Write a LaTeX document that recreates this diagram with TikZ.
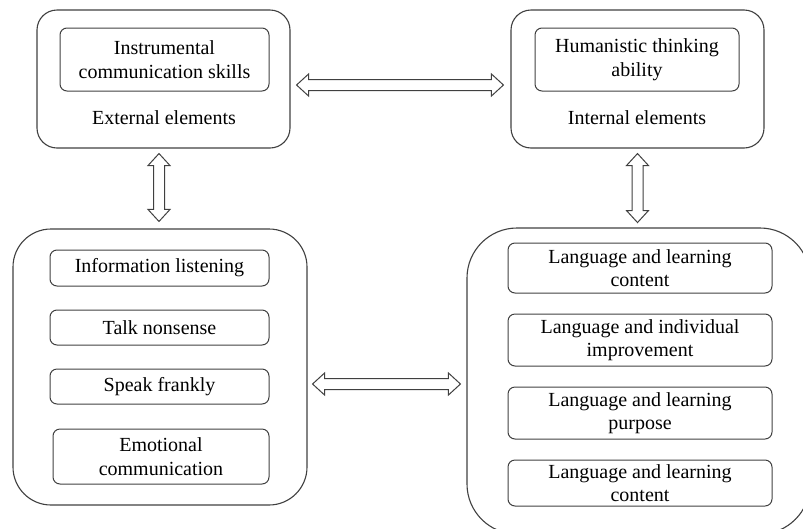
\documentclass[tikz,border=0pt]{standalone}
\usepackage{fontspec}
\setmainfont{Liberation Serif}
\usepackage{tikz}
\usetikzlibrary{positioning,calc}
\newcommand{\dblarrow}[2]{%
  \draw[arrowbody] (#1)
    -- ($(#1)!12pt!(#2)!11pt!90:(#2)$) -- ($(#1)!12pt!(#2)!5.5pt!90:(#2)$)
    -- ($(#2)!12pt!(#1)!5.5pt!-90:(#1)$) -- ($(#2)!12pt!(#1)!11pt!-90:(#1)$)
    -- (#2)
    -- ($(#2)!12pt!(#1)!11pt!90:(#1)$) -- ($(#2)!12pt!(#1)!5.5pt!90:(#1)$)
    -- ($(#1)!12pt!(#2)!5.5pt!-90:(#2)$) -- ($(#1)!12pt!(#2)!11pt!-90:(#2)$)
    -- cycle;}

\begin{document}
\begin{tikzpicture}[x=1pt, y=-1pt, font=\fontsize{20}{23.5}\selectfont,
    outer/.style={draw=black!75, line width=1.1pt, rounded corners=#1},
    item/.style={draw=black!75, line width=1pt, rounded corners=7pt, align=center, inner sep=0pt},
    arrowbody/.style={draw=black!75, line width=1pt, fill=white, line join=miter},
    node distance=23pt]
			\path[use as bounding box] (0,0) rectangle (803,528);
			\clip (0,0) rectangle (803,528);

			% upper blocks
			\node[outer=20pt, minimum width=253pt, minimum height=138pt] (ext) at (163.5,79) {};
			\node[item, minimum width=209pt, minimum height=63pt] (instr) at (164.5,59.5) {Instrumental\\communication skills};
			\node (extlabel) at (164,118) {External elements};

			\node[outer=20pt, minimum width=253pt, minimum height=138pt] (int) at (637.5,79) {};
			\node[item, minimum width=204pt, minimum height=63pt] (human) at (637,59.5) {Humanistic thinking\\ability};
			\node (intlabel) at (637,118) {Internal elements};

			% lower blocks
			\node[outer=38pt, minimum width=294pt, minimum height=276pt] (lbox) at (160,367) {};
			\node[item, minimum width=219pt, minimum height=36pt] (info) at (159.5,268) {Information listening};
			\node[item, minimum width=219pt, minimum height=35pt] (talk) [below=of info] {Talk nonsense};
			\node[item, minimum width=219pt, minimum height=35pt] (speak) [below=of talk] {Speak frankly};
			\node[item, minimum width=216pt, minimum height=55pt] (emo) [below=24pt of speak, xshift=1.5pt] {Emotional\\communication};

			\node[outer=50pt, minimum width=343pt, minimum height=306pt] (rbox) at (638.5,381) {};
			\node[item, minimum width=264pt, minimum height=50pt] (content) at (640,268) {Language and learning\\content};
			\node[item, minimum width=264pt, minimum height=52pt] (improve) [below=20pt of content] {Language and individual\\improvement};
			\node[item, minimum width=264pt, minimum height=52pt] (purpose) [below=20pt of improve] {Language and learning\\purpose};
			\node[item, minimum width=264pt, minimum height=46pt] (content2) [below=20pt of purpose] {Language and learning\\content};

			% double arrows
			\coordinate (extR) at ($(ext.east)+(6,6)$);
			\coordinate (intL) at ($(int.west)+(-7,6)$);
			\coordinate (extB) at ($(ext.south)+(-4.5,5)$);
			\coordinate (lboxT) at ($(lbox.north)+(-1,-7)$);
			\coordinate (intB) at ($(int.south)+(0,5)$);
			\coordinate (rboxT) at ($(intB)+(0,69)$);
			\coordinate (lboxR) at ($(lbox.east)+(5,17)$);
			\coordinate (rboxL) at ($(lbox.east -| rbox.west)+(-6,17)$);

			\dblarrow{extR}{intL}
			\dblarrow{extB}{lboxT}
			\dblarrow{intB}{rboxT}
			\dblarrow{lboxR}{rboxL}
		\end{tikzpicture}
\end{document}
